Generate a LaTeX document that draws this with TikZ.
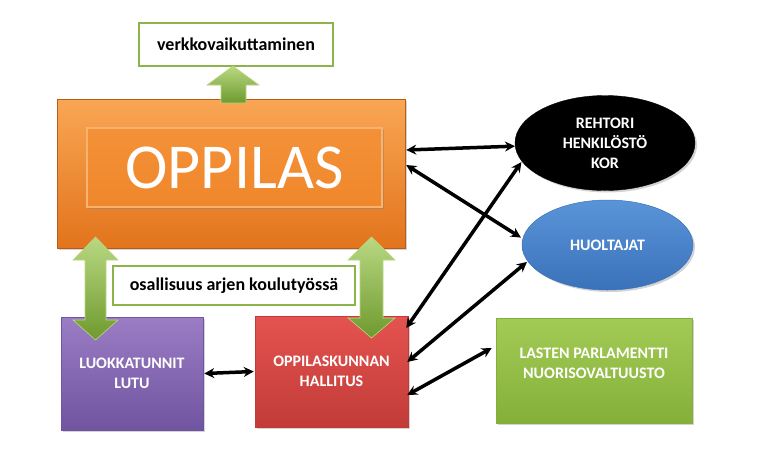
\documentclass[tikz,border=0pt]{standalone}
\usepackage{fontspec}
\setmainfont{Carlito}[BoldFont={Carlito Bold}]
\usetikzlibrary{arrows.meta,shapes.geometric,shadows}
\definecolor{grnb}{HTML}{8DB44A}
\definecolor{grnl}{HTML}{B9D882}
\definecolor{grnd}{HTML}{6E9A2E}
\definecolor{orl}{HTML}{F9A654}
\definecolor{ord}{HTML}{E2741C}
\definecolor{orm}{HTML}{F28A2E}
\definecolor{purl}{HTML}{9A7DC4}
\definecolor{purd}{HTML}{7054A0}
\definecolor{redl}{HTML}{E4534F}
\definecolor{redd}{HTML}{C23B38}
\definecolor{blul}{HTML}{5A94D8}
\definecolor{blud}{HTML}{3A72BA}
\definecolor{lgl}{HTML}{A2CB55}
\definecolor{lgd}{HTML}{84B03A}
\begin{document}
\begin{tikzpicture}[x=1pt,y=-1pt,
  lbox/.style={draw=grnb, line width=2.2pt, fill=white, inner sep=0pt,
    font=\bfseries\fontsize{18}{21}\selectfont},
  wtext/.style={text=white, align=center, inner sep=0pt,
    font=\bfseries\fontsize{16}{20}\selectfont},
  shd/.style={drop shadow={opacity=0.35, shadow xshift=2pt, shadow yshift=-2pt}},
  garrow/.style={draw=grnl, line width=0.6pt, top color=grnl, bottom color=grnd, shading angle=0},
  barrow/.style={line width=3.5pt, {Stealth[length=10pt,width=10pt]}-{Stealth[length=10pt,width=10pt]}}
]
\useasboundingbox (0,0) rectangle (759,461);

% main boxes
\node[shd, draw=ord!80!black, line width=0.5pt, top color=orl, bottom color=ord,
  minimum width=348pt, minimum height=149pt, inner sep=0pt] (opp) at (231,173.5) {};
\node[drop shadow={opacity=0.45, shadow xshift=1.5pt, shadow yshift=-2pt},
  draw=orl!85!white, line width=1.2pt, top color=orm!75!orl, bottom color=orm!85!ord,
  minimum width=295pt, minimum height=79pt, inner sep=0pt, text=white,
  font=\fontsize{64}{64}\selectfont] (oppin) at (234.5,167.5) {OPPILAS};

\node[lbox, minimum width=194pt, minimum height=43pt] (verk) at (236,44.5) {verkkovaikuttaminen};
\node[lbox, minimum width=242pt, minimum height=39pt] (osa) at (234,285.5) {osallisuus arjen koulutyössä};

\node[shd, wtext, draw=purd, line width=0.5pt, top color=purl, bottom color=purd,
  minimum width=142pt, minimum height=113pt] (luo) at (132,373.5) {LUOKKATUNNIT\\LUTU};
\node[shd, wtext, draw=redd, line width=0.5pt, top color=redl, bottom color=redd,
  minimum width=153pt, minimum height=111pt] (okh) at (331.5,371.5) {OPPILASKUNNAN\\HALLITUS};

\node[shd, wtext, ellipse, draw=black, fill=black, minimum width=180pt, minimum height=95pt]
  (reh) at (605,143) {REHTORI\\HENKILÖSTÖ\\KOR};
\node[shd, wtext, ellipse, draw=blud, line width=0.5pt, top color=blul, bottom color=blud,
  minimum width=171pt, minimum height=90pt] (huo) at (607.5,245) {HUOLTAJAT};
\node[shd, draw=lgd, line width=0.5pt, top color=lgl, bottom color=lgd,
  minimum width=196pt, minimum height=105pt, inner sep=0pt] (las) at (594,370.5) {};
\node[wtext] (lastxt) at (594,363) {LASTEN PARLAMENTTI\\NUORISOVALTUUSTO};

% green block arrows
\path[garrow] (221,103) -- (221,85) -- (207,85) -- (233,66) -- (259,85) -- (246,85) -- (246,103) -- cycle;
\path[garrow] (95.5,237) -- (118,260) -- (106,260) -- (106,320) -- (118,320) -- (95.5,340)
  -- (73,320) -- (85,320) -- (85,260) -- (73,260) -- cycle;
\path[garrow] (371.5,237) -- (395,260) -- (383,260) -- (383,318) -- (395,318) -- (371.5,338)
  -- (348,318) -- (360,318) -- (360,260) -- (348,260) -- cycle;

% black connectors
\draw[barrow] ([xshift=1pt,yshift=23.5pt]opp.east) -- (reh.182.5);
\draw[barrow] ([xshift=1pt,yshift=8.5pt]opp.east) -- ([xshift=-2pt]huo.175);
\draw[barrow] ([xshift=-2pt,yshift=43.5pt]okh.east) -- ([xshift=-1pt]reh.193);
\draw[barrow] ([xshift=-1pt,yshift=9.5pt]okh.east) -- ([xshift=-1pt]huo.192);
\draw[barrow] ([xshift=-1pt,yshift=-23.5pt]okh.east) -- ([xshift=-4pt,yshift=22.5pt]las.west);
\draw[barrow] ([xshift=1pt]luo.east) -- ([xshift=-1pt]okh.west);
\end{tikzpicture}
\end{document}
